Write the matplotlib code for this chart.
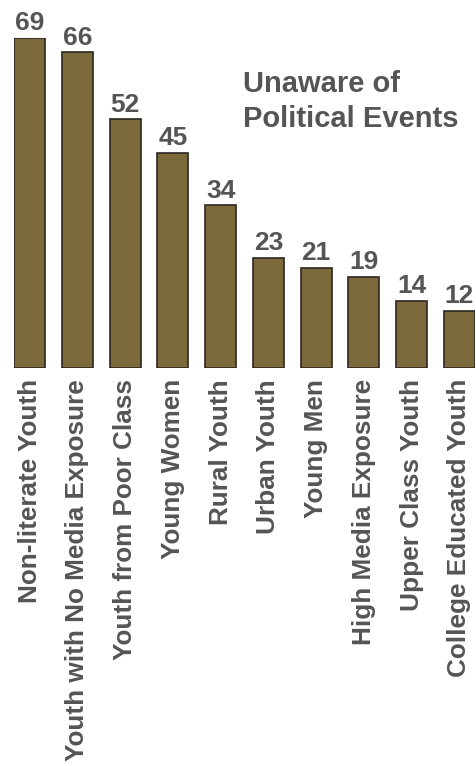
import matplotlib
matplotlib.use("Agg")
import matplotlib.pyplot as plt

categories = ["Non-literate Youth", "Youth with No Media Exposure", "Youth from Poor Class",
              "Young Women", "Rural Youth", "Urban Youth", "Young Men",
              "High Media Exposure", "Upper Class Youth", "College Educated Youth"]
values = [69, 66, 52, 45, 34, 23, 21, 19, 14, 12]
title_lines = ["Unaware of", "Political Events"]

W, H = 477, 766
fig = plt.figure(figsize=(W / 100, H / 100), dpi=100)
left, right, top, bottom = 14, 475, 38, 368
ax = fig.add_axes([left / W, 1 - bottom / H, (right - left) / W, (bottom - top) / H])

txt = "#555558"
width = 0.65
x = list(range(len(values)))
ax.bar(x, values, width=width, color="#7d6a3c", edgecolor="#2b2620", linewidth=1.2)
ax.set_xlim(-width / 2, len(values) - 1 + width / 2)
ax.set_ylim(0, 69)
for xi, v in zip(x, values):
    ax.annotate(str(v), (xi, v), xytext=(0, 5.5), textcoords="offset points",
                ha="center", va="baseline", fontsize=19, fontweight="bold",
                color=txt, family="Liberation Sans", annotation_clip=False)

ax.set_xticks(x)
ax.set_xticklabels(categories, rotation=90, fontsize=18.8, fontweight="bold",
                   color=txt, family="Liberation Sans")
ax.tick_params(axis="x", length=0, pad=8)
ax.set_yticks([])
for s in ax.spines.values():
    s.set_visible(False)

for i, line in enumerate(title_lines):
    fig.text(243 / W, 1 - (92 + 35 * i) / H, line, ha="left", va="baseline", fontsize=21,
             fontweight="bold", color=txt, family="Liberation Sans")

fig.savefig("out.png", dpi=100, facecolor="white")
